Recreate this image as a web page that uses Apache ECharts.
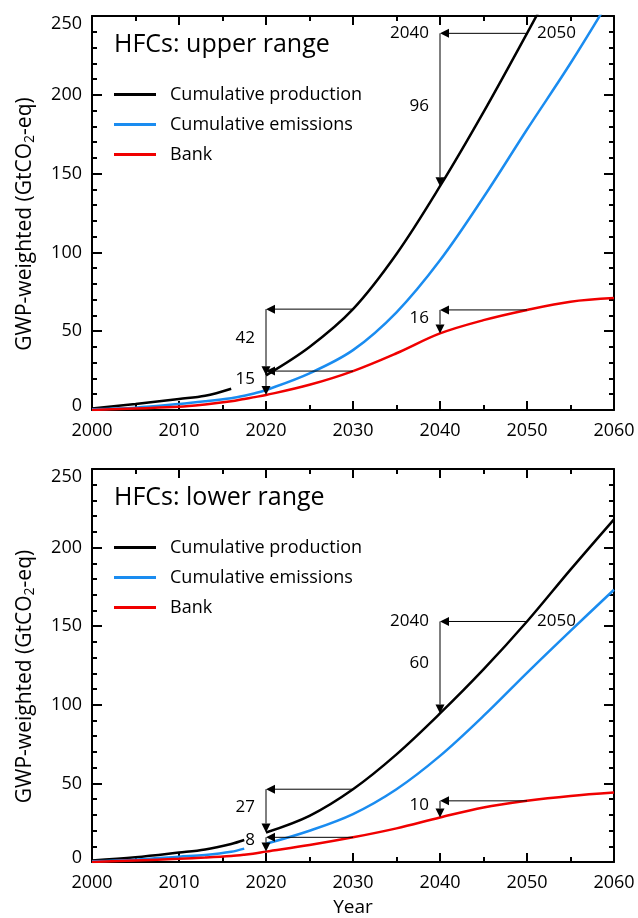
<!DOCTYPE html>
<html>
<head>
<meta charset="utf-8">
<title>HFCs: cumulative production, emissions and bank</title>
<script src="https://cdn.jsdelivr.net/npm/echarts@6/dist/echarts.min.js"></script>
<style>
  html, body { margin: 0; padding: 0; background: #fff; }
  #chart { width: 638px; height: 918px; }
</style>
</head>
<body>
<div id="chart"></div>
<script>
// years shared by all curves (null = gap in the curve)
var years = [2000, 2005, 2010, 2013, 2016, 2017.5, 2018.5, 2020, 2025, 2030, 2035, 2040, 2045, 2050, 2055, 2060];

// upper range, GtCO2-eq
var prodUpper = [1, 3.8, 7, 9, 13.5, null, null, 22, 40, 64, 99, 142, 189, 239, 290, 341];
var emisUpper = [0.5, 1.5, 3.8, 5.5, 7.5, 9, 10.3, 12.7, 23.3, 38, 62, 95, 135, 178, 220, 265];
var bankUpper = [0, 1, 2, 3.5, 5.5, 7, 8, 9.5, 16, 24.7, 36, 48.6, 57, 63.5, 68.7, 71];

// lower range, GtCO2-eq
var prodLower = [1, 3, 6, 8, 11.5, 14, null, 18.8, 29.4, 46.3, 68.5, 94.5, 122.5, 153, 186, 218];
var emisLower = [0.5, 1.5, 3.4, 4.5, 6.5, 8.5, null, 11.6, 19.9, 30.5, 46.3, 67.5, 92.9, 120.3, 147, 173.2];
var bankLower = [0, 1, 2, 2.8, 3.8, 4.6, 5.3, 6.6, 10.8, 15.7, 21.4, 28.3, 34.7, 38.9, 42, 44.2];

var seriesNames = ['Cumulative production', 'Cumulative emissions', 'Bank'];
var seriesColors = ['#000000', '#1a8cf0', '#f00000'];

// arrows: [series index, later year, earlier year, label, show the years]
var notesUpper = [[0, 2050, 2040, '96', true], [0, 2030, 2020, '42', false], [2, 2030, 2020, '15', false], [2, 2050, 2040, '16', false]];
var notesLower = [[0, 2050, 2040, '60', true], [0, 2030, 2020, '27', false], [2, 2030, 2020, '8', false], [2, 2050, 2040, '10', false]];

var FONT = '"Open Sans", "Noto Sans", sans-serif';

var panels = [
    { title: 'HFCs: upper range', top: 16, data: [prodUpper, emisUpper, bankUpper], notes: notesUpper, xName: '' },
    { title: 'HFCs: lower range', top: 469, data: [prodLower, emisLower, bankLower], notes: notesLower, xName: 'Year' }
];

function valueAt(arr, year) {
    return arr[years.indexOf(year)];
}

function arrow(p, q) {
    var dx = q[0] - p[0], dy = q[1] - p[1];
    var len = Math.sqrt(dx * dx + dy * dy);
    var ux = dx / len, uy = dy / len;
    var bx = q[0] - ux * 9, by = q[1] - uy * 9;
    return [
        { type: 'line', shape: { x1: p[0], y1: p[1], x2: bx, y2: by }, style: { stroke: '#000', lineWidth: 1 } },
        { type: 'polygon', shape: { points: [[q[0], q[1]], [bx - uy * 4.5, by + ux * 4.5], [bx + uy * 4.5, by - ux * 4.5]] }, style: { fill: '#000' } }
    ];
}

function label(text, x, y, align) {
    return { type: 'text', x: x, y: y, style: { text: text, fill: '#000', font: '17px ' + FONT, align: align, verticalAlign: 'middle' } };
}

function noteRenderer(notes) {
    return function (params, api) {
        var n = notes[params.dataIndex];
        var a = api.coord([api.value(0), api.value(1)]);
        var b = api.coord([api.value(2), api.value(1)]);
        var c = api.coord([api.value(2), api.value(3)]);
        var children = arrow(a, b).concat(arrow(b, c));
        children.push(label(n[3], b[0] - 11, (b[1] + c[1]) / 2 - 4, 'right'));
        if (n[4]) {
            children.push(label(String(n[2]), b[0] - 11, b[1], 'right'));
            children.push(label(String(n[1]), a[0] + 10, a[1], 'left'));
        }
        return { type: 'group', children: children };
    };
}

var axisLineStyle = { color: '#000', width: 2 };

var option = {
    animation: false,
    backgroundColor: '#fff',
    title: [],
    legend: [],
    grid: [],
    xAxis: [],
    yAxis: [],
    series: []
};

panels.forEach(function (p, i) {
    option.title.push({
        text: p.title, left: 114, top: p.top + 16, padding: 0,
        textStyle: { fontSize: 25, fontWeight: 'normal', fontFamily: FONT, color: '#000' }
    });
    option.legend.push({
        orient: 'vertical', left: 114, top: p.top + 63.5, padding: 0, itemGap: 0,
        itemWidth: 42, itemHeight: 3, icon: 'rect', selectedMode: false,
        data: seriesNames,
        textStyle: { fontSize: 18, fontFamily: FONT, color: '#000', lineHeight: 30, padding: [0, 0, 0, 9] }
    });
    option.grid.push({ left: 92, top: p.top, width: 522, height: 394 });

    var xBase = {
        type: 'value', gridIndex: i, min: 2000, max: 2060, interval: 10,
        axisLine: { show: true, onZero: false, lineStyle: axisLineStyle },
        axisTick: { show: true, inside: true, length: 9, lineStyle: axisLineStyle },
        minorTick: { show: true, splitNumber: 2, length: 5, lineStyle: axisLineStyle },
        splitLine: { show: false }
    };
    option.xAxis.push(Object.assign({}, xBase, {
        position: 'bottom',
        axisLabel: { color: '#000', fontSize: 18, fontFamily: FONT, margin: 12, formatter: function (v) { return String(v); } },
        name: p.xName, nameLocation: 'middle', nameGap: 36,
        nameTextStyle: { color: '#000', fontSize: 19, fontFamily: FONT }
    }));
    option.xAxis.push(Object.assign({}, xBase, { position: 'top', axisLabel: { show: false } }));

    var yBase = {
        type: 'value', gridIndex: i, min: 0, max: 250, interval: 50,
        axisLine: { show: true, onZero: false, lineStyle: axisLineStyle },
        axisTick: { show: true, inside: true, length: 10, lineStyle: axisLineStyle },
        minorTick: { show: true, splitNumber: 5, length: 5, lineStyle: axisLineStyle },
        splitLine: { show: false }
    };
    option.yAxis.push(Object.assign({}, yBase, {
        position: 'left',
        axisLabel: {
            color: '#000', fontSize: 18, fontFamily: FONT, margin: 10,
            formatter: function (v) {
                if (v === 250) return '{hi|250}';
                if (v === 0) return '{lo|0}';
                return String(v);
            },
            rich: {
                hi: { fontSize: 18, fontFamily: FONT, color: '#000', padding: [15, 0, 0, 0] },
                lo: { fontSize: 18, fontFamily: FONT, color: '#000', padding: [0, 0, 8, 0] }
            }
        },
        name: '{t|GWP-weighted (GtCO}{sub|2}{t|-eq)}', nameLocation: 'middle', nameGap: 55,
        nameTextStyle: {
            color: '#000', fontSize: 21, fontFamily: FONT, padding: [0, 22, 0, 0],
            rich: {
                t: { fontSize: 21, fontFamily: FONT, color: '#000', lineHeight: 24, verticalAlign: 'middle' },
                sub: { fontSize: 14, fontFamily: FONT, color: '#000', lineHeight: 14, verticalAlign: 'bottom' }
            }
        }
    }));
    option.yAxis.push(Object.assign({}, yBase, { position: 'right', axisLabel: { show: false } }));

    p.data.forEach(function (arr, k) {
        option.series.push({
            name: seriesNames[k], type: 'line', xAxisIndex: i * 2, yAxisIndex: i * 2,
            data: years.map(function (y, j) { return [y, arr[j]]; }),
            showSymbol: false, smooth: 0.35, connectNulls: false, clip: true,
            color: seriesColors[k],
            lineStyle: { color: seriesColors[k], width: 2.5 },
            z: 2
        });
    });

    option.series.push({
        type: 'custom', xAxisIndex: i * 2, yAxisIndex: i * 2, silent: true, z: 3,
        renderItem: noteRenderer(p.notes),
        encode: { x: [0, 2], y: [1, 3] },
        data: p.notes.map(function (n) {
            var arr = p.data[n[0]];
            return [n[1], valueAt(arr, n[1]), n[2], valueAt(arr, n[2])];
        })
    });
});

var chart = echarts.init(document.getElementById('chart'));
chart.setOption(option);
</script>
</body>
</html>
